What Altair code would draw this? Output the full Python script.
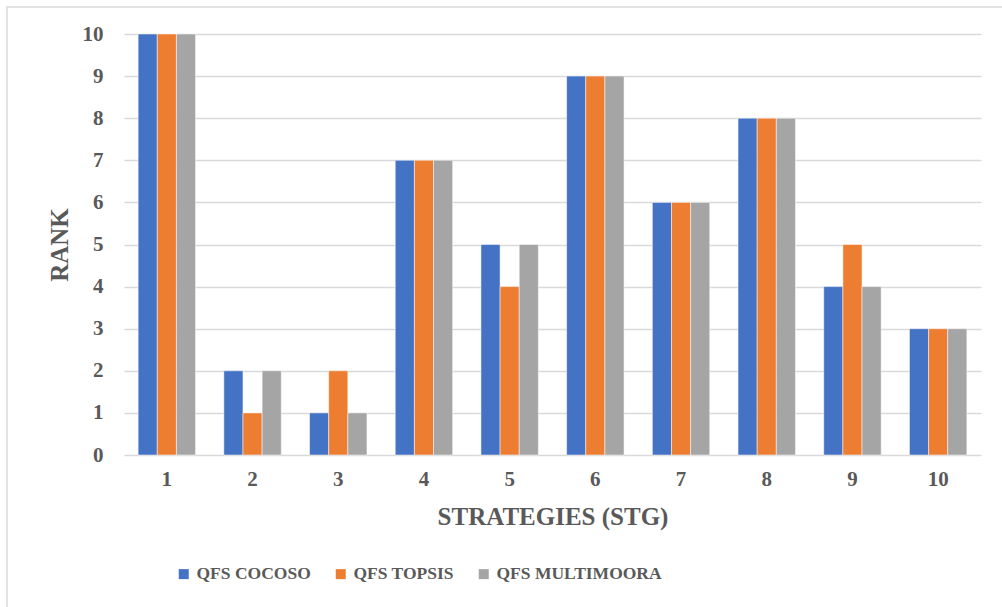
import altair as alt
import pandas as pd

strategies = [1, 2, 3, 4, 5, 6, 7, 8, 9, 10]
cocoso = [10, 2, 1, 7, 5, 9, 6, 8, 4, 3]
topsis = [10, 1, 2, 7, 4, 9, 6, 8, 5, 3]
multimoora = [10, 2, 1, 7, 5, 9, 6, 8, 4, 3]
series = ["QFS COCOSO", "QFS TOPSIS", "QFS MULTIMOORA"]
colors = ["#4472C4", "#ED7D31", "#A5A5A5"]

rows = []
for name, vals in zip(series, [cocoso, topsis, multimoora]):
    for s, v in zip(strategies, vals):
        rows.append({"Strategy": str(s), "Series": name, "Rank": v})
df = pd.DataFrame(rows)

FONT = "Times New Roman"
GREY = "#595959"

border = alt.Chart(pd.DataFrame({"a": [0]})).mark_rect(
    fill=None, stroke="#D9D9D9", strokeWidth=1.5
).encode(
    x=alt.value(-117), x2=alt.value(885),
    y=alt.value(-27), y2=alt.value(580),
)

bars = alt.Chart(df).mark_bar(stroke="white", strokeWidth=0.5).encode(
    x=alt.X("Strategy:N", sort=[str(s) for s in strategies],
            scale=alt.Scale(paddingInner=0.33, paddingOuter=0.165),
            axis=alt.Axis(title="STRATEGIES (STG)", labelAngle=0, ticks=False,
                          domain=False, labelPadding=13, titlePadding=15,
                          labelFont=FONT, titleFont=FONT, titleFontSize=25,
                          labelFontSize=21)),
    xOffset=alt.XOffset("Series:N", sort=series),
    y=alt.Y("Rank:Q", scale=alt.Scale(domain=[0, 10]),
            axis=alt.Axis(title="RANK", values=list(range(0, 11)), ticks=False,
                          domain=False, labelPadding=21, titlePadding=10,
                          labelFont=FONT, titleFont=FONT, titleFontSize=25,
                          labelFontSize=21,
                          gridColor="#D9D9D9", gridWidth=1.5)),
    color=alt.Color("Series:N", sort=series,
                    scale=alt.Scale(domain=series, range=colors),
                    legend=alt.Legend(title=None, orient="none", direction="horizontal",
                                      legendX=51, legendY=531, symbolType="square",
                                      symbolSize=100, symbolStrokeWidth=0,
                                      labelFontSize=17.5, labelFont=FONT,
                                      labelFontWeight="bold", labelColor=GREY,
                                      labelLimit=400,
                                      columnPadding=21, labelOffset=4)),
)

chart = alt.layer(border, bars).properties(
    width=857, height=421,
    autosize=alt.AutoSizeParams(type="none"),
    padding={"left": 124, "top": 34, "right": 21, "bottom": 152},
).configure(font=FONT).configure_view(stroke=None).configure_axis(
    labelFontWeight="bold", labelColor=GREY,
    titleFontWeight="bold", titleColor=GREY,
).configure_axisX(grid=False)

chart.save("out.html", embed_options={"renderer": "svg", "actions": False})
